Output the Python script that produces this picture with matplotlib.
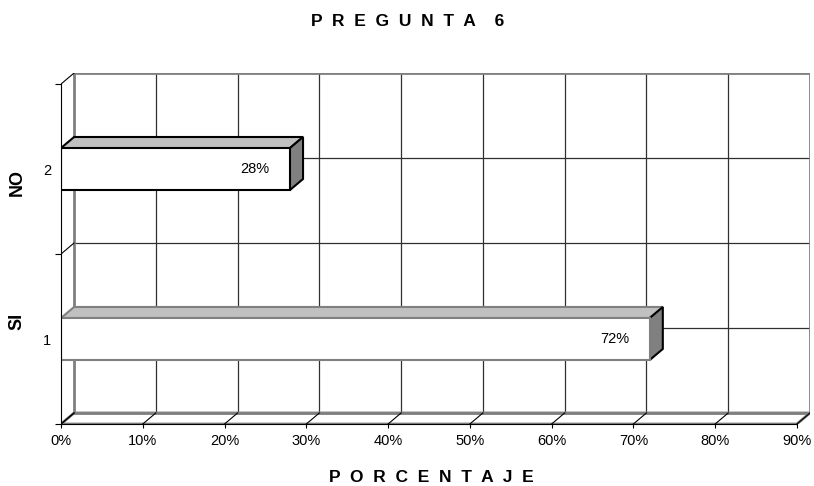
import matplotlib.pyplot as plt
from matplotlib.patches import Polygon

plt.rcParams['font.family'] = ['Liberation Sans', 'DejaVu Sans']

categories = [1, 2]
cat_names = ['SI', 'NO']
values = [72, 28]
value_labels = ['72%', '28%']
xticks = [0, 10, 20, 30, 40, 50, 60, 70, 80, 90]
xtick_labels = ['%d%%' % t for t in xticks]

# depth offset of the pseudo 3d box (data units)
DX = 1.6
DY = 0.065
BAR_H = 0.247

fig = plt.figure(figsize=(8.14, 4.86), dpi=100)
ax = fig.add_axes([61 / 814, 62 / 486, 749 / 814, 351 / 486])
ax.set_xlim(0, 90 + DX)
ax.set_ylim(0.5, 2.5 + DY)

grid_c = '#303030'
wall_c = '#808080'

# back wall grid
for t in xticks[1:-1]:
    ax.plot([t + DX, t + DX], [0.5 + DY, 2.5 + DY], color=grid_c, lw=0.9, zorder=1)
for y in [1, 1.5, 2]:
    ax.plot([DX, 90 + DX], [y + DY, y + DY], color=grid_c, lw=0.9, zorder=1)

# back wall frame
ax.add_patch(Polygon([(DX, 0.5 + DY), (DX, 2.5 + DY), (90 + DX, 2.5 + DY), (90 + DX, 0.5 + DY)],
                     closed=True, fill=False, ec=wall_c, lw=2, zorder=2, joinstyle='miter'))
# floor
ax.add_patch(Polygon([(0, 0.5), (90, 0.5), (90 + DX, 0.5 + DY), (DX, 0.5 + DY)],
                     closed=True, fill=False, ec=wall_c, lw=2, zorder=2))
# floor ticks
for t in xticks:
    ax.plot([t, t + DX], [0.5, 0.5 + DY], color='black', lw=0.8, zorder=3)
# left wall ticks
for y in [0.5, 1.5, 2.5]:
    ax.plot([0, DX], [y, y + DY], color='black', lw=0.8, zorder=3)

# bars
for c, v, lab, name in zip(categories, values, value_labels, cat_names):
    lo, hi = c - BAR_H / 2, c + BAR_H / 2
    edge = 'black' if name == 'NO' else wall_c
    ax.add_patch(Polygon([(0, hi), (v, hi), (v + DX, hi + DY), (DX, hi + DY)],
                         closed=True, fc='#c0c0c0', ec=edge, lw=1.5, zorder=4, joinstyle='miter'))
    ax.add_patch(Polygon([(v, lo), (v + DX, lo + DY), (v + DX, hi + DY), (v, hi)],
                         closed=True, fc='#808080', ec='black', lw=1.5, zorder=4, joinstyle='miter'))
    ax.add_patch(Polygon([(0, lo), (v, lo), (v, hi), (0, hi)],
                         closed=True, fc='white', ec=edge, lw=1.5, zorder=5, joinstyle='miter'))
    ax.text(v - 2.5, c, lab, ha='right', va='center', fontsize=10.5, zorder=6)

# front axes
for s in ['top', 'right']:
    ax.spines[s].set_visible(False)
ax.spines['left'].set_bounds(0.5, 2.5)
ax.spines['bottom'].set_bounds(0, 90)
ax.spines['left'].set_zorder(7)
ax.spines['bottom'].set_zorder(7)

ax.set_xticks(xticks)
ax.set_xticklabels(xtick_labels, fontsize=10.5)
ax.tick_params(axis='x', length=3, width=0.8, pad=4)

ax.set_yticks(categories)
ax.set_yticklabels([str(c) for c in categories], fontsize=10.5)
ax.tick_params(axis='y', which='major', length=0, pad=7)
ax.set_yticks([0.5, 1.5, 2.5], minor=True)
ax.tick_params(axis='y', which='minor', length=4, width=0.8)

fig.text(408 / 814, 1 - 22 / 486, 'P  R  E  G  U  N  T  A    6',
         ha='center', va='center', fontsize=12.5, fontweight='bold')
fig.text(431 / 814, 1 - 477 / 486, 'P  O  R  C  E  N  T  A  J  E',
         ha='center', va='center', fontsize=12.5, fontweight='bold')
fig.text(17 / 814, 1 - 183 / 486, 'NO', rotation=90, ha='center', va='center',
         fontsize=13, fontweight='bold')
fig.text(17 / 814, 1 - 321 / 486, 'SI', rotation=90, ha='center', va='center',
         fontsize=13, fontweight='bold')

fig.savefig('out.png', dpi=100)
